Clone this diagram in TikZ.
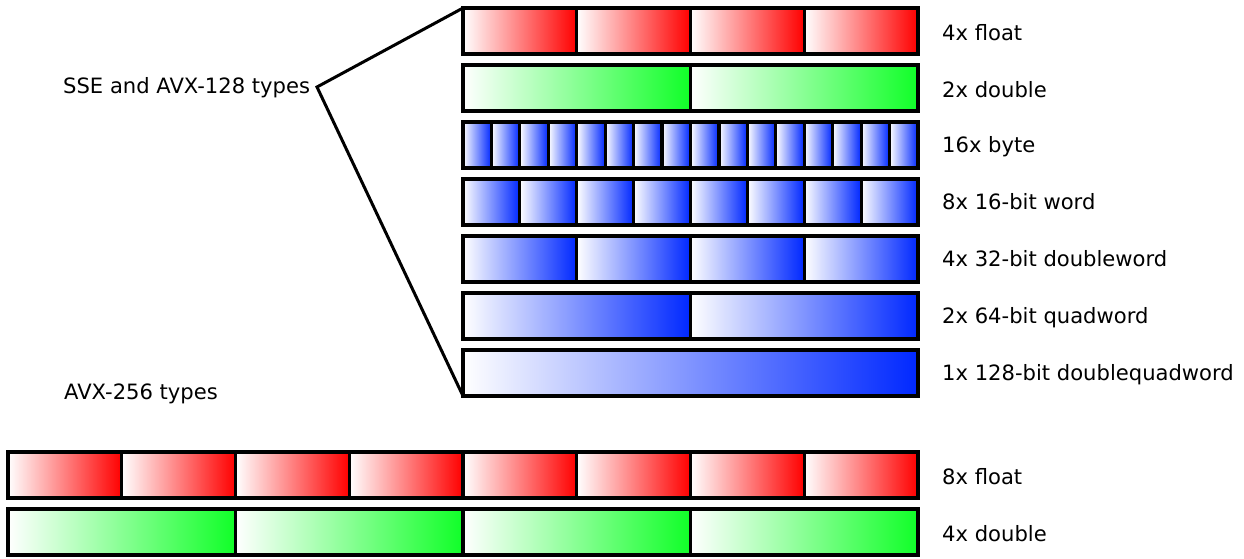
\documentclass[tikz,border=0pt]{standalone}
\usepackage{fontspec}
\setmainfont{DejaVu Sans}

\begin{document}
\begin{tikzpicture}[x=1pt,y=-1pt]
% Styles
\tikzstyle{case}=[draw=black,line width=3.2pt,rectangle,inner sep=0pt,outer sep=0pt,anchor=north west,minimum height=46pt]
\tikzstyle{etiquette}=[anchor=base west,inner sep=0pt,font=\fontsize{21.1}{24}\selectfont]
\tikzstyle{trait}=[line width=3pt,line join=miter]
% Couleurs
\definecolor{rouge}{RGB}{255,0,0}
\definecolor{vert}{RGB}{16,255,40}
\definecolor{bleu}{RGB}{0,40,255}
% Dimensions
\def\GaucheA{463}
\def\GaucheB{8}
\def\Droite{918}
\def\Texte{942}
% Rangee : nom, haut, gauche, nombre de cases, couleur
\def\Rangee#1#2#3#4#5{%
  \pgfmathsetmacro{\LargeurCase}{(\Droite-#3)/#4}
  \foreach \i in {1,...,#4}{
    \node[case,left color=white,right color=#5,minimum width=\LargeurCase pt] (#1-\i) at ({#3+(\i-1)*\LargeurCase},#2) {};
  }
}
\useasboundingbox (0,0) rectangle (1244,558);
% Registres 128 bits
\Rangee{F4}{8}{\GaucheA}{4}{rouge}
\Rangee{D2}{65}{\GaucheA}{2}{vert}
\Rangee{B16}{122}{\GaucheA}{16}{bleu}
\Rangee{W8}{179}{\GaucheA}{8}{bleu}
\Rangee{DW4}{236}{\GaucheA}{4}{bleu}
\Rangee{QW2}{293}{\GaucheA}{2}{bleu}
\Rangee{DQ1}{350}{\GaucheA}{1}{bleu}
% Registres 256 bits
\Rangee{F8}{452}{\GaucheB}{8}{rouge}
\Rangee{D4}{509}{\GaucheB}{4}{vert}
% Etiquettes
\node[etiquette] (sse) at (63,93) {SSE and AVX-128 types};
\node[etiquette] (avx) at (64,399) {AVX-256 types};
\node[etiquette] (tF4) at (\Texte,40) {4x float};
\node[etiquette] (tD2) at (\Texte,97) {2x double};
\node[etiquette] (tB16) at (\Texte,152) {16x byte};
\node[etiquette] (tW8) at (\Texte,209) {8x 16-bit word};
\node[etiquette] (tDW4) at (\Texte,266) {4x 32-bit doubleword};
\node[etiquette] (tQW2) at (\Texte,323) {2x 64-bit quadword};
\node[etiquette] (tDQ1) at (\Texte,380) {1x 128-bit doublequadword};
\node[etiquette] (tF8) at (\Texte,484) {8x float};
\node[etiquette] (tD4) at (\Texte,541) {4x double};
% Traits
\coordinate (sommet) at (317,87);
\draw[trait] (F4-1.north west) -- (sommet) -- (DQ1-1.south west);
\end{tikzpicture}
\end{document}
